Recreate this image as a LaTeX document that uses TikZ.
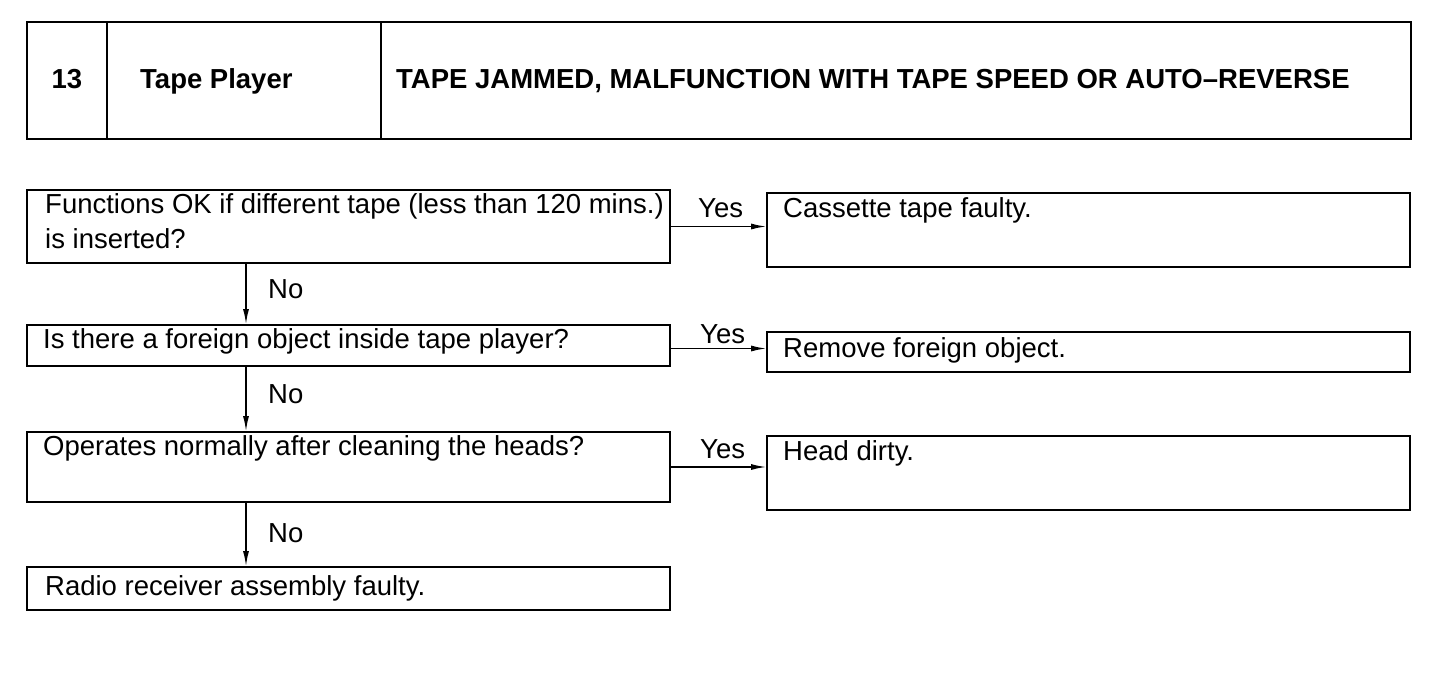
\documentclass[tikz,border=0pt]{standalone}
\usepackage{fontspec}
\setmainfont{Liberation Sans}
\usetikzlibrary{arrows.meta}

\tikzset{
  box/.style={draw, line width=2.4pt, anchor=north west, inner sep=0pt, outer sep=0pt},
  hbox/.style={box, line width=2.6pt, minimum height=117pt},
  txt/.style={anchor=base west, inner sep=0pt, font=\fontsize{27.5}{35}\selectfont},
  hdr/.style={txt, font=\fontsize{27.5}{35}\selectfont\bfseries},
  arr/.style={-{Latex[length=16pt,width=6pt]}, line width=1.8pt},
}

\begin{document}
\begin{tikzpicture}[x=1pt, y=-1pt]

\useasboundingbox (0,0) rectangle (1456,688);

\coordinate (nox) at (246,0);

% header
\node[hbox, minimum width=80pt] (num) at (27,22) {};
\node[hbox, minimum width=274pt] (sys) at (num.north east) {};
\node[hbox, minimum width=1030pt] (title) at (sys.north east) {};

\node[hdr, anchor=base] (numtxt) at (67,88) {13};
\node[hdr] (systxt) at (140,88) {Tape Player};
\node[hdr] (titletxt) at (396,88) {TAPE JAMMED, MALFUNCTION WITH TAPE SPEED OR AUTO--REVERSE};

% questions
\node[box, minimum width=643pt, minimum height=73pt] (q1) at (27,190) {};
\node[box, minimum width=643pt, minimum height=41pt] (q2) at (27,325) {};
\node[box, minimum width=643pt, minimum height=70pt] (q3) at (27,432) {};
\node[box, minimum width=643pt, minimum height=43pt] (q4) at (27,567) {};

% answers
\node[box, minimum width=643pt, minimum height=74pt] (a1) at (767,193) {};
\node[box, minimum width=643pt, minimum height=40pt] (a2) at (767,332) {};
\node[box, minimum width=643pt, minimum height=74pt] (a3) at (767,436) {};

\node[txt, anchor=north west, align=left] (q1txt) at (45,193) {Functions OK if different tape (less than 120 mins.)\\is inserted?};
\node[txt] (q2txt) at (43,348) {Is there a foreign object inside tape player?};
\node[txt] (q3txt) at (43,455) {Operates normally after cleaning the heads?};
\node[txt] (q4txt) at (45,595) {Radio receiver assembly faulty.};

\node[txt] (a1txt) at (783,217) {Cassette tape faulty.};
\node[txt] (a2txt) at (783,357) {Remove foreign object.};
\node[txt] (a3txt) at (783,460) {Head dirty.};

% yes
\draw[arr] (q1.east) -- (q1.east -| a1.west);
\draw[arr] ([yshift=-3pt]q2.east) -- ([yshift=-3pt]q2.east -| a2.west);
\draw[arr] (q3.east) -- (q3.east -| a3.west);

\node[txt] (yes1) at (698,217) {Yes};
\node[txt] (yes2) at (700,343) {Yes};
\node[txt] (yes3) at (700,458) {Yes};

% no
\draw[arr] (q1.south -| nox) -- (q2.north -| nox);
\draw[arr] (q2.south -| nox) -- (q3.north -| nox);
\draw[arr] (q3.south -| nox) -- (q4.north -| nox);

\node[txt] (no1) at (268,298) {No};
\node[txt] (no2) at (268,403) {No};
\node[txt] (no3) at (268,542) {No};

\end{tikzpicture}
\end{document}
